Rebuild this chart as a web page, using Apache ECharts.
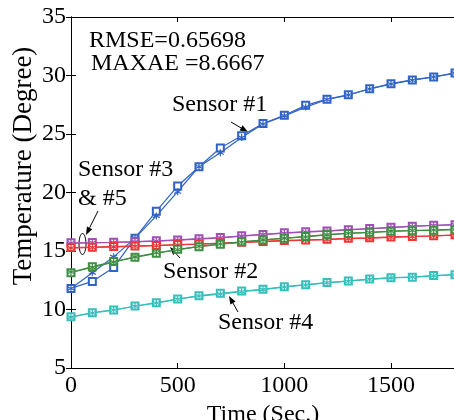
<!DOCTYPE html>
<html>
<head>
<meta charset="utf-8">
<script src="https://cdn.jsdelivr.net/npm/echarts@6/dist/echarts.min.js"></script>
<style>
    html, body { margin: 0; padding: 0; background: #fff; }
    #main { width: 454px; height: 420px; }
</style>
</head>
<body>
<div id="main"></div>
<script>
// time axis (seconds)
var time = [0, 100, 200, 300, 400, 500, 600, 700, 800, 900, 1000, 1100, 1200, 1300, 1400, 1500, 1600, 1700, 1800];

// sensor #1 (blue)
var s1Square = [11.8, 12.4, 13.6, 16.1, 18.4, 20.55, 22.2, 23.8, 24.85, 25.9, 26.6, 27.45, 27.98, 28.35, 28.87, 29.3, 29.62, 29.88, 30.22];
var s1Star = [11.8, 13.15, 14.5, 16.1, 18.0, 20.07, 22.2, 23.4, 24.7, 25.85, 26.55, 27.3, 27.95, 28.33, 28.85, 29.27, 29.6, 29.87, 30.2];
// sensor #2 (green)
var s2Square = [13.15, 13.66, 14.1, 14.46, 14.8, 15.14, 15.37, 15.57, 15.8, 15.94, 16.08, 16.25, 16.4, 16.5, 16.6, 16.68, 16.73, 16.77, 16.82];
var s2Star = [13.2, 13.6, 14.05, 14.5, 14.85, 15.1, 15.4, 15.6, 15.75, 15.95, 16.1, 16.2, 16.38, 16.52, 16.58, 16.7, 16.75, 16.8, 16.85];
// sensor #3 (red)
var s3Square = [15.3, 15.33, 15.38, 15.43, 15.48, 15.55, 15.6, 15.68, 15.75, 15.82, 15.9, 15.95, 16.0, 16.08, 16.13, 16.2, 16.25, 16.3, 16.38];
var s3Star = [15.25, 15.3, 15.35, 15.4, 15.45, 15.52, 15.58, 15.65, 15.72, 15.8, 15.86, 15.92, 15.98, 16.05, 16.1, 16.17, 16.22, 16.28, 16.35];
// sensor #4 (cyan)
var s4Square = [9.38, 9.73, 9.96, 10.3, 10.58, 10.9, 11.18, 11.38, 11.58, 11.73, 11.95, 12.12, 12.3, 12.44, 12.6, 12.72, 12.75, 12.9, 12.98];
var s4Star = [9.35, 9.7, 9.95, 10.28, 10.55, 10.88, 11.15, 11.32, 11.52, 11.7, 11.92, 12.1, 12.28, 12.42, 12.58, 12.7, 12.78, 12.88, 12.96];
// sensor #5 (purple)
var s5Square = [15.7, 15.72, 15.75, 15.8, 15.87, 15.95, 16.05, 16.15, 16.3, 16.42, 16.55, 16.65, 16.72, 16.82, 16.92, 17.02, 17.12, 17.2, 17.25];
var s5Star = [15.68, 15.7, 15.73, 15.78, 15.85, 15.93, 16.02, 16.12, 16.27, 16.4, 16.52, 16.62, 16.7, 16.8, 16.9, 17.0, 17.1, 17.18, 17.24];

var font = '"Liberation Serif", "Times New Roman", serif';
var starPath = 'path://M5,0L5,10M0.7,2.5L9.3,7.5M0.7,7.5L9.3,2.5';

function pairs(ys) {
    return time.map(function (t, i) { return [t, ys[i]]; });
}

function squareSeries(ys, color) {
    return {
        type: 'line',
        data: pairs(ys),
        symbol: 'emptyRect',
        symbolSize: 7,
        lineStyle: { color: color, width: 1.2 },
        itemStyle: { color: color, borderColor: color, borderWidth: 1 },
        animation: false
    };
}

function starSeries(ys, color) {
    return {
        type: 'line',
        data: pairs(ys),
        symbol: starPath,
        symbolSize: 7,
        lineStyle: { color: color, width: 1.2 },
        itemStyle: { color: color, borderColor: color, borderWidth: 1.2 },
        animation: false
    };
}

// arrow: tail (x1,y1) -> tip (x2,y2)
function arrow(x1, y1, x2, y2) {
    var a = Math.atan2(y2 - y1, x2 - x1);
    var len = 8, w = 3;
    var bx = x2 - len * Math.cos(a), by = y2 - len * Math.sin(a);
    var px = -Math.sin(a) * w, py = Math.cos(a) * w;
    return [{
        type: 'line',
        shape: { x1: x1, y1: y1, x2: bx, y2: by },
        style: { stroke: '#000', lineWidth: 1 }
    }, {
        type: 'polygon',
        shape: { points: [[x2, y2], [bx + px, by + py], [bx - px, by - py]] },
        style: { fill: '#000' }
    }];
}

function label(text, x, y, align) {
    return {
        type: 'text',
        x: x, y: y,
        style: {
            text: text, fill: '#000', font: '24px ' + font,
            align: align || 'left', verticalAlign: 'middle'
        }
    };
}

var myChart = echarts.init(document.getElementById('main'));

var graphics = [
    label('RMSE=0.65698', 89, 41),
    label('MAXAE =8.6667', 91, 64),
    label('Sensor #1', 172, 105),
    label('Sensor #3', 78, 170),
    label('& #5', 78, 199),
    label('Sensor #2', 163, 272),
    label('Sensor #4', 218, 323),
    {
        type: 'ellipse',
        shape: { cx: 82.5, cy: 244, rx: 3.5, ry: 10.5 },
        style: { fill: 'none', stroke: '#000', lineWidth: 1 }
    },
    {
        type: 'text',
        x: 24, y: 166,
        rotation: Math.PI / 2,
        style: {
            text: 'Temperature (Degree)', fill: '#000', font: '27px ' + font,
            align: 'center', verticalAlign: 'middle'
        }
    }
];
graphics = graphics
    .concat(arrow(231, 122, 248, 132))
    .concat(arrow(98, 211, 86, 235))
    .concat(arrow(180, 258, 170, 247))
    .concat(arrow(238, 312, 229, 296));

var axisCommon = {
    type: 'value',
    axisLine: { show: true, lineStyle: { color: '#000', width: 1 } },
    axisTick: { show: true, inside: true, length: 5, lineStyle: { color: '#000' } },
    splitLine: { show: false }
};

function plain(v) { return String(v); }

myChart.setOption({
    backgroundColor: '#fff',
    grid: { left: 71, right: -1, top: 17, bottom: 52, containLabel: false, outerBoundsMode: 'none' },
    xAxis: [
        Object.assign({}, axisCommon, {
            min: 0, max: 1800, interval: 500,
            name: 'Time (Sec.)',
            nameLocation: 'middle',
            nameGap: 35,
            nameTextStyle: { fontFamily: font, fontSize: 24, color: '#000' },
            axisLabel: { fontFamily: font, fontSize: 24, color: '#000', margin: 6, formatter: plain, showMaxLabel: false }
        }),
        Object.assign({}, axisCommon, {
            position: 'top', min: 0, max: 1800, interval: 500,
            axisLabel: { show: false }
        })
    ],
    yAxis: [
        Object.assign({}, axisCommon, {
            min: 5, max: 35, interval: 5,
            axisLabel: { fontFamily: font, fontSize: 24, color: '#000', margin: 5, formatter: plain }
        }),
        Object.assign({}, axisCommon, {
            position: 'right', min: 5, max: 35, interval: 5,
            axisLabel: { show: false }
        })
    ],
    series: [
        squareSeries(s1Square, '#2f64c6'),
        starSeries(s1Star, '#2f64c6'),
        squareSeries(s5Square, '#a04fb4'),
        starSeries(s5Star, '#a04fb4'),
        squareSeries(s3Square, '#ee3535'),
        starSeries(s3Star, '#ee3535'),
        squareSeries(s2Square, '#3e8f44'),
        starSeries(s2Star, '#3e8f44'),
        squareSeries(s4Square, '#36bfbb'),
        starSeries(s4Star, '#36bfbb')
    ],
    graphic: graphics
});
</script>
</body>
</html>
